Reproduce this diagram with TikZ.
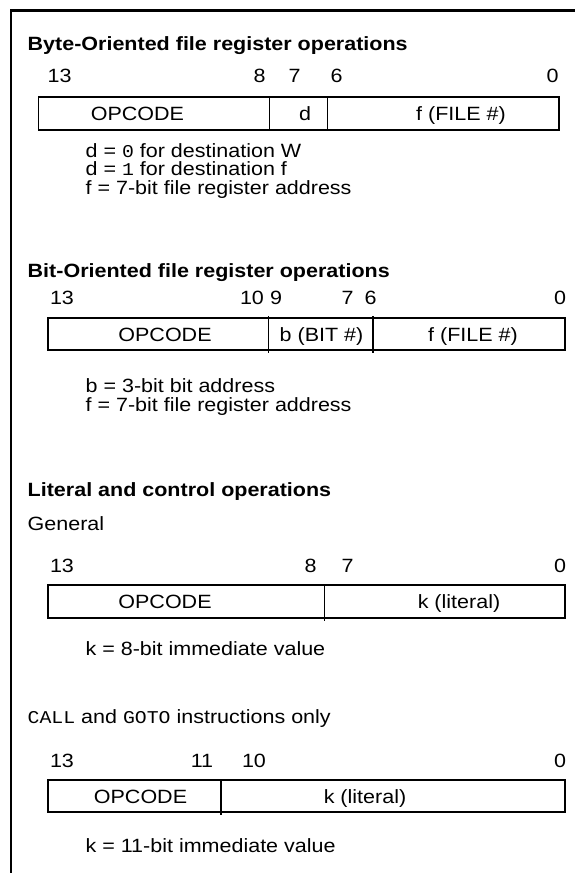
\documentclass[tikz,border=0pt]{standalone}
\usepackage{fontspec}
\setmainfont{Liberation Sans}[FakeStretch=1.12]
\newfontfamily\codefont{Liberation Mono}[FakeStretch=1.1]

\usetikzlibrary{positioning}

\newcommand{\figfont}{\fontsize{19.2}{21}\selectfont}
\newcommand{\code}[1]{{\codefont\fontsize{18}{21}\selectfont #1}}

\tikzset{
  txt/.style={anchor=base west, inner sep=0pt},
  head/.style={txt, font=\figfont\bfseries},
  bitno/.style={anchor=base, inner sep=0pt},
  field/.style={anchor=base, inner sep=0pt},
  regbox/.style={line width=1.8pt},
  fieldsep/.style={line width=1.3pt},
}

\begin{document}
\begin{tikzpicture}[x=1pt, y=-1pt, every node/.style={font=\figfont}]
      \useasboundingbox (0,0) rectangle (575,873);
      % frame, open at the right and at the bottom
      \draw[line width=2.4pt] (10.7,873) -- (10.7,10.3) -- (575,10.3);
      % byte-oriented
      \node[head] (bytehead) at (27.5,50) {Byte-Oriented file register operations};
      \node[bitno] (bytehi) at (59.6,82) {13};
      \node[bitno] at (259.5,82) {8};
      \node[bitno] at (294.5,82) {7};
      \node[bitno] at (336.5,82) {6};
      \node[bitno] (bytelo) at (552.5,82) {0};
      \draw[regbox] (38.5,97) rectangle (559,130);
      \draw[fieldsep] (269.5,97) -- (269.5,130);
      \draw[fieldsep] (327.5,97) -- (327.5,130);
      \node[field] (byteop) at (137.4,120.5) {OPCODE};
      \node[field] (byted) at (305,120.5) {d};
      \node[field] (bytef) at (461,120.5) {f (FILE \#)};
      \node[txt] (dzero) at (85.4,157) {d = \code{0} for destination W};
      \node[txt] (done) at (85.4,175.5) {d = \code{1} for destination f};
      \node[txt] (byteaddr) at (85.4,194) {f = 7-bit file register address};
      % bit-oriented
      \node[head] (bithead) at (27.5,277) {Bit-Oriented file register operations};
      \node[bitno] (bithi) at (62,304) {13};
      \node[bitno] at (252,304) {10};
      \node[bitno] at (276,304) {9};
      \node[bitno] at (347.5,304) {7};
      \node[bitno] at (370.5,304) {6};
      \node[bitno] (bitlo) at (560,304) {0};
      \draw[regbox] (47.7,318) rectangle (565,350);
      \draw[fieldsep] (268.8,316) -- (268.8,353);
      \draw[fieldsep] (373,316) -- (373,353);
      \node[field] (bitop) at (165,341) {OPCODE};
      \node[field] (bitb) at (321.5,341) {b (BIT \#)};
      \node[field] (bitf) at (473,341) {f (FILE \#)};
      \node[txt] (bitaddr) at (85.4,392) {b = 3-bit bit address};
      \node[txt] (bitfile) at (85.4,411) {f = 7-bit file register address};
      % literal and control
      \node[head] (lithead) at (27.5,496) {Literal and control operations};
      \node[txt] (general) at (27.5,530) {General};
      \node[bitno] (lithi) at (62,572) {13};
      \node[bitno] at (310.5,572) {8};
      \node[bitno] at (347.5,572) {7};
      \node[bitno] (litlo) at (560,572) {0};
      \draw[regbox] (47.7,585) rectangle (565,618);
      \draw[fieldsep] (324.5,585) -- (324.5,621);
      \node[field] (litop) at (165,608.5) {OPCODE};
      \node[field] (litk) at (459,608.5) {k (literal)};
      \node[txt] (litnote) at (85.4,655) {k = 8-bit immediate value};
      % call and goto
      \node[txt] (callhead) at (27.5,723) {\code{CALL} and \code{GOTO} instructions only};
      \node[bitno] (callhi) at (62,767) {13};
      \node[bitno] at (202,767) {11};
      \node[bitno] at (254,767) {10};
      \node[bitno] (calllo) at (560,767) {0};
      \draw[regbox] (47.7,780) rectangle (565,812);
      \draw[fieldsep] (221,780) -- (221,815);
      \node[field] (callop) at (140.5,803) {OPCODE};
      \node[field] (callk) at (365,803) {k (literal)};
      \node[txt] (callnote) at (85.4,852) {k = 11-bit immediate value};
    \end{tikzpicture}
\end{document}
